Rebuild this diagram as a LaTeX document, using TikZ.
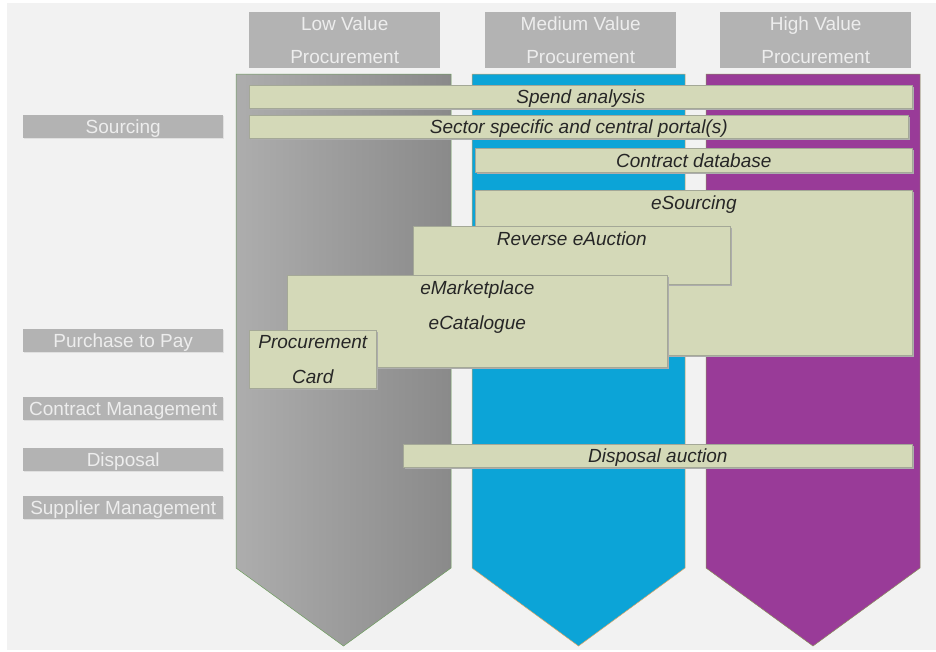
\documentclass[tikz,border=0pt]{standalone}
\usepackage{fontspec}
\setmainfont{Liberation Sans}
\usetikzlibrary{shadows}

\definecolor{pagegray}{HTML}{F2F2F2}
\definecolor{tabgray}{HTML}{B3B3B3}
\definecolor{tabtext}{HTML}{EDEDED}
\definecolor{barfill}{HTML}{D4D9B8}
\definecolor{barline}{HTML}{A4A897}
\definecolor{bartext}{HTML}{262626}
\definecolor{lowleft}{HTML}{ADADAD}
\definecolor{lowright}{HTML}{8A8A8A}
\definecolor{lowline}{HTML}{6E9E5E}
\definecolor{medblue}{HTML}{0CA4D7}
\definecolor{medline}{HTML}{E2A460}
\definecolor{highpurple}{HTML}{993B98}
\definecolor{highline}{HTML}{8A8F5A}

\tikzset{
  tab/.style={fill=tabgray, text=tabtext, inner sep=0pt, anchor=north west,
    font=\fontsize{19}{33}\selectfont, align=center},
  coltab/.style={tab, minimum width=191pt, minimum height=56pt},
  rowtab/.style={tab, minimum width=200pt, minimum height=23pt,
    text height=13.6pt, text depth=0pt,
    general shadow={fill=black!12, shadow xshift=1pt, shadow yshift=-1pt}},
  bar/.style={fill=barfill, draw=barline, line width=0.6pt, inner sep=0pt,
    anchor=north west, text=bartext, font=\fontsize{19}{35}\selectfont\itshape,
    text height=13.6pt, text depth=0pt,
    general shadow={fill=black!32, shadow xshift=2pt, shadow yshift=-2pt}},
  bartitle/.style={anchor=north, inner sep=0pt, align=center, text=bartext,
    font=\fontsize{19}{35}\selectfont\itshape},
}

\begin{document}
\begin{tikzpicture}[x=1pt, y=-1pt]
\useasboundingbox (0,0) rectangle (936,651);
\fill[pagegray] (7,3) rectangle (936,650);

% column headers
\node[coltab] (lowhead) at (249,12) {Low Value\\Procurement};
\node[coltab] (medhead) at (485,12) {Medium Value\\Procurement};
\node[coltab] (highhead) at (720,12) {High Value\\Procurement};

% the three columns
\draw[draw=lowline, line width=0.5pt, left color=lowleft, right color=lowright]
  (236,74) -- (451,74) -- (451,568) -- (343.5,646) -- (236,568) -- cycle;
\draw[draw=medline, line width=0.5pt, fill=medblue]
  (472,74) -- (685,74) -- (685,568) -- (578.5,646) -- (472,568) -- cycle;
\draw[draw=highline, line width=0.5pt, fill=highpurple]
  (706,74) -- (920,74) -- (920,568) -- (813,646) -- (706,568) -- cycle;

% row labels
\node[rowtab] (sourcing) at (23,115) {Sourcing};
\node[rowtab] (p2p) at (23,329) {Purchase to Pay};
\node[rowtab] (contract) at (23,397) {Contract Management};
\node[rowtab] (disposal) at (23,448) {Disposal};
\node[rowtab] (supplier) at (23,496) {Supplier Management};

% bars
\node[bar, minimum width=663pt, minimum height=23pt] (spend) at (249,85) {Spend analysis};
\node[bar, minimum width=659pt, minimum height=23pt] (portal) at (249,115) {Sector specific and central portal(s)};
\node[bar, minimum width=437pt, minimum height=24pt] (contractdb) at (475,148) {Contract database};

\node[bar, minimum width=437pt, minimum height=165pt] (esourcing) at (475,190) {};
\node[bartitle] (esourcingtxt) at ([yshift=-6pt]esourcing.north) {eSourcing};

\node[bar, minimum width=317pt, minimum height=58pt] (reverse) at (413,226) {};
\node[bartitle] (reversetxt) at ([yshift=-6pt]reverse.north) {Reverse eAuction};

\node[bar, minimum width=380pt, minimum height=92pt] (market) at (287,275) {};
\node[bartitle] (markettxt) at ([yshift=-6pt]market.north) {eMarketplace\\eCatalogue};

\node[bar, minimum width=127pt, minimum height=58pt] (pcard) at (249,330) {};
\node[bartitle] (pcardtxt) at ([yshift=-5pt]pcard.north) {Procurement\\Card};

\node[bar, minimum width=509pt, minimum height=23pt] (dauction) at (403,444) {Disposal auction};

\end{tikzpicture}
\end{document}
